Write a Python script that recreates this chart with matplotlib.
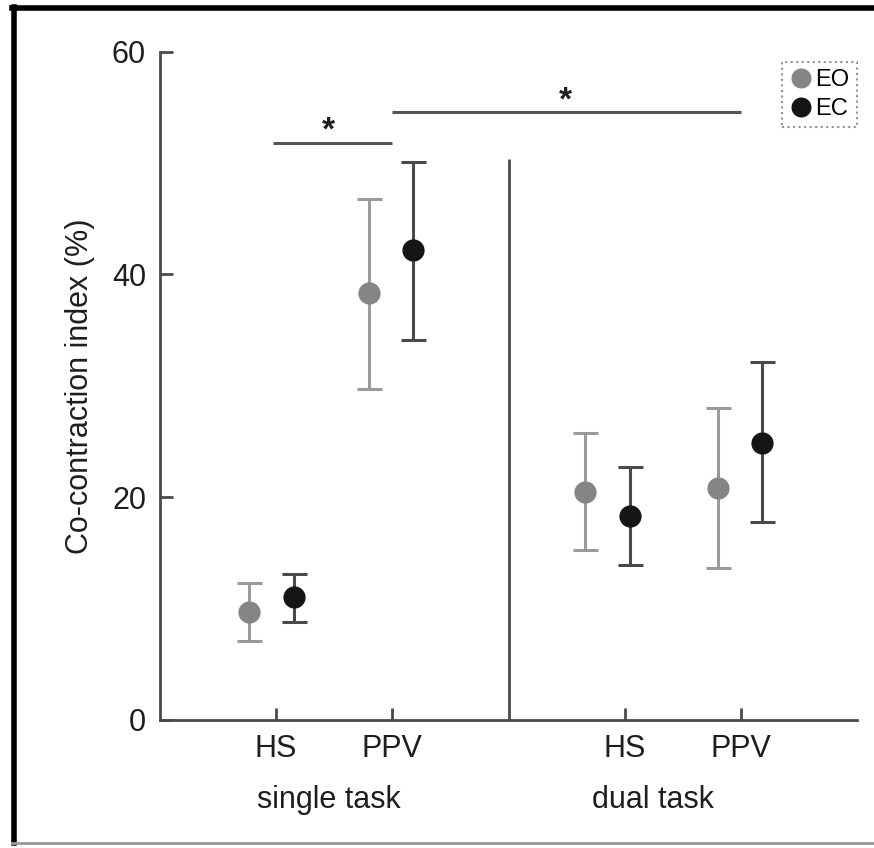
import matplotlib

matplotlib.use("Agg")
import matplotlib.pyplot as plt
from matplotlib.lines import Line2D

plt.rcParams["font.family"] = ["Liberation Sans", "DejaVu Sans"]

# category layout (x positions of group centres, tick labels)
tick_pos = [1, 2, 4, 5]
tick_labels = ["HS", "PPV", "HS", "PPV"]
group_x = [0.97, 2.0, 3.86, 5.0]

# values (mean, upper, lower)
eo_mean = [9.7, 38.3, 20.5, 20.8]
eo_hi = [12.3, 46.8, 25.8, 28.0]
eo_lo = [7.1, 29.7, 15.3, 13.6]
ec_mean = [11.0, 42.2, 18.3, 24.9]
ec_hi = [13.1, 50.1, 22.7, 32.1]
ec_lo = [8.8, 34.1, 13.9, 17.8]

AX_COLOR = "#4a4a4a"
TXT = "#1e1e1e"
EO_COLOR = "#858585"
EO_BAR = "#9a9a9a"
EC_COLOR = "#151515"
EC_BAR = "#4a4a4a"

fig = plt.figure(figsize=(8.74, 8.48), dpi=100)
ax = fig.add_axes([0.183, 0.151, 0.798, 0.788])


def draw(xs, mean, hi, lo, mcol, bcol, label):
    yerr = [[m - l for m, l in zip(mean, lo)], [h - m for m, h in zip(mean, hi)]]
    ax.errorbar(xs, mean, yerr=yerr, fmt="none", ecolor=bcol, elinewidth=2.2,
                capsize=9, capthick=2.2, zorder=2)
    ax.plot(xs, mean, "o", ms=16, color=mcol, mec="none", label=label, zorder=3)


draw([x - 0.2 for x in group_x], eo_mean, eo_hi, eo_lo, EO_COLOR, EO_BAR, "EO")
draw([x + 0.18 for x in group_x], ec_mean, ec_hi, ec_lo, EC_COLOR, EC_BAR, "EC")

# divider between single and dual task
ax.plot([3, 3], [0, 50.4], color=AX_COLOR, lw=2, solid_capstyle="butt")

# significance bars
ax.plot([0.97, 2.0], [51.8, 51.8], color="#555555", lw=2.2, solid_capstyle="butt")
ax.plot([2.0, 5.0], [54.6, 54.6], color="#555555", lw=2.2, solid_capstyle="butt")
ax.text(1.45, 51.5, "*", ha="center", va="bottom", fontsize=24,
        fontweight="bold", color=TXT)
ax.text(3.49, 54.2, "*", ha="center", va="bottom", fontsize=24,
        fontweight="bold", color=TXT)

ax.set_xlim(0, 6)
ax.set_ylim(0, 60)
ax.set_xticks(tick_pos)
ax.set_xticklabels(tick_labels)
ax.set_yticks([0, 20, 40, 60])
ax.tick_params(direction="in", length=9, width=2, color=AX_COLOR, labelsize=22,
               pad=10, labelcolor=TXT)
for side in ("top", "right"):
    ax.spines[side].set_visible(False)
for side in ("left", "bottom"):
    ax.spines[side].set_color(AX_COLOR)
    ax.spines[side].set_linewidth(2)
ax.set_ylabel("Co-contraction index (%)", fontsize=22, color=TXT, labelpad=12)

tr = ax.get_xaxis_transform()
ax.text(1.45, -0.12, "single task", transform=tr, ha="center", va="center",
        fontsize=22, color=TXT)
ax.text(4.24, -0.12, "dual task", transform=tr, ha="center", va="center",
        fontsize=22, color=TXT)

leg = ax.legend(loc="upper right", bbox_to_anchor=(1.016, 1.002), fontsize=17,
                handletextpad=0.1, handlelength=1.0, borderpad=0.3,
                labelspacing=0.3, markerscale=0.9, fancybox=False)
leg.get_frame().set_edgecolor("#777777")
leg.get_frame().set_linestyle(":")
leg.get_frame().set_linewidth(1.5)

# outer frame of the figure
fig.add_artist(Line2D([0.016, 0.016], [0.006, 0.992], color="black", lw=4))
fig.add_artist(Line2D([0.014, 1.0], [0.991, 0.991], color="black", lw=4))
fig.add_artist(Line2D([0.014, 1.0], [0.006, 0.006], color="#999999", lw=2))

fig.savefig("out.png", dpi=100)
